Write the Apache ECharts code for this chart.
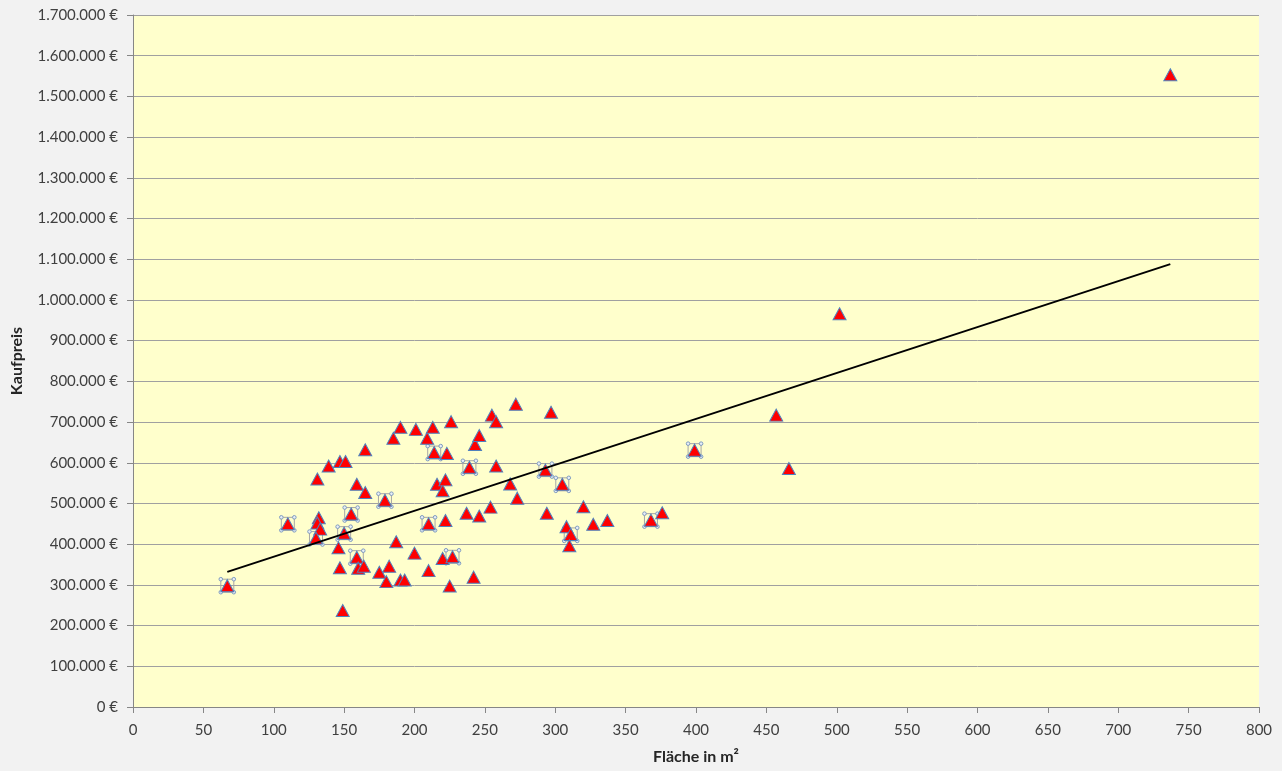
<!DOCTYPE html>
<html>
<head>
<meta charset="utf-8">
<script src="https://cdn.jsdelivr.net/npm/echarts@6/dist/echarts.min.js"></script>
<style>
html,body{margin:0;padding:0;background:#f2f2f2;}
#chart{width:1282px;height:771px;}
</style>
</head>
<body>
<div id="chart"></div>
<script>
// Fläche in m²
const flaeche = [67,110,131,132,131,133,130,139,147,151,146,147,149,150,155,159,159,160,164,165,165,175,179,180,182,185,187,190,190,193,200,201,209,210,210,213,214,216,220,220,222,222,223,225,226,227,237,239,242,243,246,246,254,255,258,258,268,272,273,293,294,297,305,308,311,310,320,327,337,368,376,399,457,466,502,737];
// Kaufpreis in €
const kaufpreis = [298000,450000,560000,465000,452000,437000,415000,592000,603000,603000,391000,342000,237000,427000,474000,547000,368000,341000,346000,632000,527000,331000,508000,308000,346000,660000,406000,687000,312000,312000,378000,682000,660000,335000,450000,687000,625000,547000,365000,531000,558000,458000,623000,297000,701000,369000,476000,589000,319000,645000,667000,469000,491000,717000,701000,592000,548000,744000,513000,582000,476000,724000,547000,443000,424000,396000,492000,449000,458000,459000,477000,631000,717000,586000,966000,1553000];
// indices of points shown with selection handles in the original
const markierte = [0,1,6,13,14,16,22,34,36,45,47,59,62,64,69,71];
// linear trendline endpoints
const trendX = [67, 737];
const trendY = [332000, 1088000];
const xTicks = {min:0, max:800, interval:50};
const yTicks = {min:0, max:1700000, interval:100000};

const points = flaeche.map((x,i)=>[x,kaufpreis[i]]);
const boxed = markierte.map(i=>points[i]);
const trend = trendX.map((x,i)=>[x,trendY[i]]);

function fmtEuro(v){
  return String(Math.round(v)).replace(/\B(?=(\d{3})+(?!\d))/g,'.') + ' €';
}

const chart = echarts.init(document.getElementById('chart'), null, {renderer:'canvas'});
const FONT = 'Lato, "Open Sans", sans-serif';
const labelFont = {fontFamily:FONT, fontSize:15, color:'#404040'};
const titleFont = {fontFamily:FONT, fontSize:16, fontWeight:'bold', color:'#262626'};
chart.setOption({
  animation:false,
  backgroundColor:'#f2f2f2',
  grid:{left:133, top:15, width:1126, height:692, show:true, backgroundColor:'#FFFFCC', borderWidth:0, containLabel:false},
  xAxis:{
    type:'value', min:xTicks.min, max:xTicks.max, interval:xTicks.interval,
    name:'Fläche in m²', nameLocation:'middle', nameGap:42,
    nameTextStyle:titleFont,
    axisLine:{show:true, onZero:false, lineStyle:{color:'#868686', width:1}},
    axisTick:{show:true, inside:false, length:6, lineStyle:{color:'#868686'}},
    axisLabel:{...labelFont, margin:16},
    splitLine:{show:false}
  },
  yAxis:{
    type:'value', min:yTicks.min, max:yTicks.max, interval:yTicks.interval,
    name:'Kaufpreis', nameLocation:'middle', nameGap:108, nameRotate:90,
    nameTextStyle:titleFont,
    axisLine:{show:true, onZero:false, lineStyle:{color:'#868686', width:1}},
    axisTick:{show:true, inside:false, length:6, lineStyle:{color:'#868686'}},
    axisLabel:{...labelFont, margin:15, formatter:fmtEuro},
    splitLine:{show:true, lineStyle:{color:'#a0a0a0', width:1}}
  },
  series:[
    {
      type:'custom', z:2, silent:true,
      data:boxed,
      renderItem:function(params, api){
        const c = api.coord([api.value(0), api.value(1)]);
        const h = 6.5;
        const corners = [[c[0]-h,c[1]-h],[c[0]+h,c[1]-h],[c[0]-h,c[1]+h],[c[0]+h,c[1]+h]];
        const children = [{
          type:'rect', shape:{x:c[0]-h, y:c[1]-h, width:2*h, height:2*h},
          style:{fill:null, stroke:'#a6a6a6', lineWidth:1}
        }];
        corners.forEach(p=>children.push({
          type:'circle', shape:{cx:p[0], cy:p[1], r:1.8},
          style:{fill:'#e8eef6', stroke:'#7f9cbf', lineWidth:1}
        }));
        return {type:'group', children:children};
      }
    },
    {
      type:'scatter', z:3,
      data:points,
      symbol:'triangle', symbolSize:[13,12],
      itemStyle:{color:'#ff0000', borderColor:'#4f81bd', borderWidth:1, opacity:1}
    },
    {
      type:'line', z:4,
      data:trend, symbol:'none',
      lineStyle:{color:'#000000', width:2}
    }
  ]
});
</script>
</body>
</html>
